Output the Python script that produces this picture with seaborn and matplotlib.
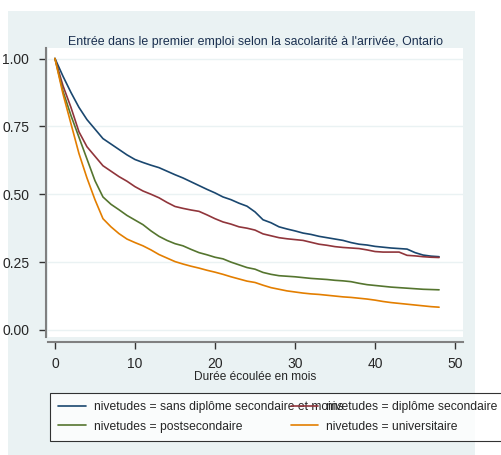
import numpy as np
import pandas as pd
import matplotlib
matplotlib.use('Agg')
import matplotlib.pyplot as plt
from matplotlib.patches import Rectangle
import seaborn as sns

# durée (mois) et survie estimée par niveau d'études
mois = list(range(0, 49))
sans_diplome = [1.0, 0.935, 0.875, 0.82, 0.775, 0.74, 0.705, 0.685, 0.665, 0.645,
                0.628, 0.617, 0.607, 0.598, 0.585, 0.572, 0.56, 0.546, 0.532, 0.518,
                0.505, 0.49, 0.48, 0.467, 0.456, 0.435, 0.406, 0.395, 0.38, 0.372,
                0.365, 0.357, 0.352, 0.345, 0.34, 0.335, 0.33, 0.322, 0.316, 0.313,
                0.308, 0.305, 0.302, 0.300, 0.298, 0.285, 0.276, 0.272, 0.27]
diplome_sec = [1.0, 0.9, 0.82, 0.73, 0.675, 0.64, 0.605, 0.585, 0.565, 0.548,
               0.528, 0.512, 0.5, 0.487, 0.47, 0.455, 0.448, 0.442, 0.437, 0.424,
               0.41, 0.398, 0.39, 0.38, 0.375, 0.368, 0.354, 0.347, 0.34, 0.336,
               0.333, 0.33, 0.323, 0.316, 0.312, 0.307, 0.304, 0.302, 0.30, 0.295,
               0.289, 0.287, 0.287, 0.287, 0.275, 0.273, 0.27, 0.268, 0.267]
postsec = [1.0, 0.88, 0.79, 0.71, 0.63, 0.55, 0.49, 0.463, 0.443, 0.422,
           0.405, 0.388, 0.365, 0.345, 0.33, 0.318, 0.31, 0.297, 0.285, 0.277,
           0.268, 0.262, 0.25, 0.24, 0.23, 0.224, 0.212, 0.205, 0.2, 0.198,
           0.196, 0.193, 0.19, 0.188, 0.186, 0.183, 0.181, 0.178, 0.172, 0.167,
           0.164, 0.161, 0.158, 0.156, 0.154, 0.152, 0.15, 0.149, 0.148]
universitaire = [1.0, 0.87, 0.76, 0.65, 0.56, 0.48, 0.41, 0.38, 0.355, 0.335,
                 0.322, 0.31, 0.295, 0.278, 0.265, 0.252, 0.243, 0.235, 0.228, 0.22,
                 0.213, 0.205, 0.196, 0.188, 0.18, 0.175, 0.165, 0.156, 0.15, 0.144,
                 0.14, 0.136, 0.133, 0.131, 0.128, 0.125, 0.122, 0.12, 0.117, 0.114,
                 0.11, 0.105, 0.101, 0.098, 0.095, 0.092, 0.089, 0.086, 0.084]

groupes = ['nivetudes = sans diplôme secondaire et moins',
           'nivetudes = diplôme secondaire',
           'nivetudes = postsecondaire',
           'nivetudes = universitaire']
couleurs = ['#1a476f', '#90353b', '#55752f', '#e37e00']
yticks = [0, 0.25, 0.5, 0.75, 1.0]
ylabels = ['0.00', '0.25', '0.50', '0.75', '1.00']
xticks = [0, 10, 20, 30, 40, 50]

df = pd.concat([pd.DataFrame({'mois': mois, 'survie': s, 'groupe': g})
                for s, g in zip([sans_diplome, diplome_sec, postsec, universitaire], groupes)])

sns.set_style('white')
plt.rcParams['font.family'] = ['Liberation Sans', 'DejaVu Sans']

W, H = 501, 455
fig = plt.figure(figsize=(W / 100, H / 100), dpi=100, facecolor='white')
fig.patches.append(Rectangle((8 / W, 0), (475 - 8) / W, (455 - 11) / H,
                             transform=fig.transFigure, facecolor='#eaf2f3',
                             edgecolor='none', zorder=-10))

ax = fig.add_axes([48 / W, (H - 337) / H, (463 - 48) / W, (337 - 48) / H])
ax.set_zorder(1)
ax.set_facecolor('white')
sns.lineplot(data=df, x='mois', y='survie', hue='groupe', hue_order=groupes,
             palette=couleurs, linewidth=1.2, ax=ax, legend=True)

ax.set_xlim(-0.868, 50.99)
ax.set_ylim(-0.0258, 1.0387)
ax.set_xticks(xticks)
ax.set_xticklabels([str(x) for x in xticks], fontsize=10)
ax.set_yticks(yticks)
ax.set_yticklabels(ylabels, fontsize=6, rotation=90, va='center')
ax.yaxis.grid(True, color='#eaf2f3', linewidth=1.0)
ax.tick_params(axis='y', length=5, width=1, color='#333333', pad=7, direction='out', left=True)
ax.tick_params(axis='x', length=5, width=1, color='#333333', pad=6, direction='out', bottom=True)
for s in ['top', 'right']:
    ax.spines[s].set_visible(False)
ax.spines['left'].set_position(('outward', 1.5))
ax.spines['bottom'].set_position(('outward', 3.5))
for s in ['left', 'bottom']:
    ax.spines[s].set_color('#808080')
    ax.spines[s].set_linewidth(1.5)

ax.set_xlabel('Durée écoulée en mois', fontsize=8.6, labelpad=0)
ax.set_ylabel('')
ax.set_title("Entrée dans le premier emploi selon la sacolarité à l'arrivée, Ontario",
             fontsize=8.9, color='#1a2f4f', pad=2)

handles, labels = ax.get_legend_handles_labels()
ax.get_legend().remove()
ordre = [0, 2, 1, 3]
leg = fig.legend([handles[i] for i in ordre], [labels[i] for i in ordre],
                 ncol=2, loc='upper left', bbox_to_anchor=(50 / W, (H - 393) / H),
                 fontsize=8.7, frameon=True, fancybox=False, edgecolor='black',
                 handlelength=2.3, handletextpad=0.6, columnspacing=-4.35,
                 borderpad=0.7, borderaxespad=0, labelspacing=0.6)
leg.get_frame().set_linewidth(0.8)

fig.savefig('out.png', dpi=100)
